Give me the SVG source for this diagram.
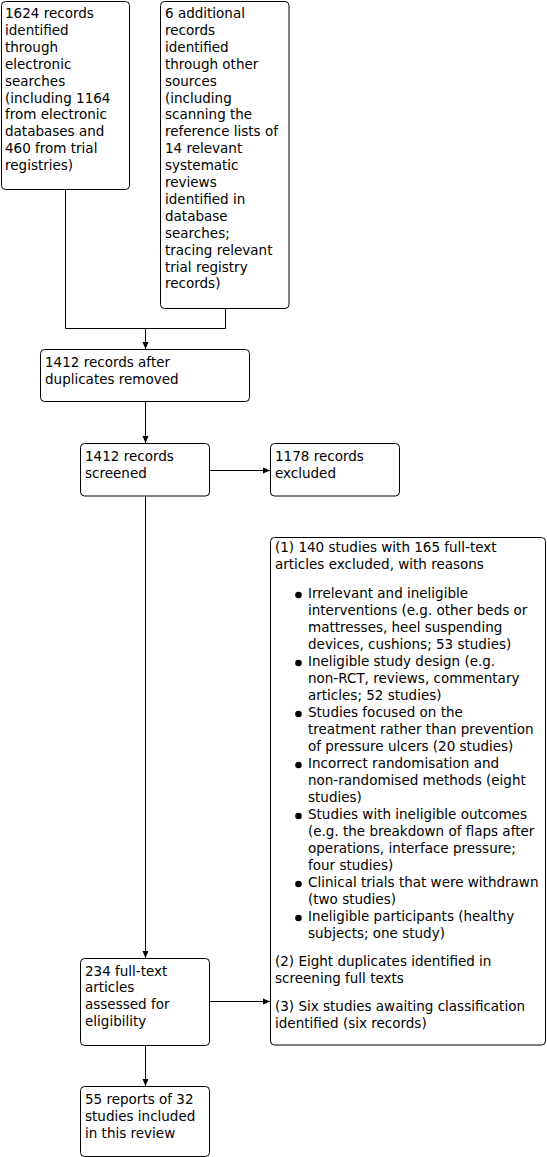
<svg xmlns="http://www.w3.org/2000/svg" width="547" height="1157" viewBox="0 0 547 1157">
<style>
.box{fill:#fff;stroke:#000;stroke-width:1}
text{font-family:"DejaVu Sans",Verdana,sans-serif;font-size:13.5px;fill:#000}
.ln{fill:none;stroke:#000;stroke-width:1}
.bul{fill:#000}
</style>
<defs>
<marker id="ah" markerUnits="userSpaceOnUse" markerWidth="8" markerHeight="8" viewBox="0 0 8 8" refX="7" refY="4" orient="auto">
<path d="M0,1 L7,4 L0,7 Z" fill="#000"/>
</marker>
</defs>
<rect width="547" height="1157" fill="#fff"/>
<g id="connectors">
<path class="ln" d="M65.5,189 V328.5 H225.5 V308.5"/>
<path class="ln" d="M145.5,328.5 V349" marker-end="url(#ah)"/>
<path class="ln" d="M145.5,401.5 V443" marker-end="url(#ah)"/>
<path class="ln" d="M209.5,470.5 H270" marker-end="url(#ah)"/>
<path class="ln" d="M145.5,496 V958" marker-end="url(#ah)"/>
<path class="ln" d="M209.5,1001.5 H270" marker-end="url(#ah)"/>
<path class="ln" d="M145.5,1045.5 V1086" marker-end="url(#ah)"/>
</g>
<g id="n1">
<rect class="box" x="1.5" y="1.5" width="128" height="188" rx="4"/>
<text x="5"><tspan x="5" y="18">1624 records</tspan><tspan x="5" y="34.9">identified</tspan><tspan x="5" y="51.8">through</tspan><tspan x="5" y="68.7">electronic</tspan><tspan x="5" y="85.6">searches</tspan><tspan x="5" y="102.5">(including 1164</tspan><tspan x="5" y="119.4">from electronic</tspan><tspan x="5" y="136.3">databases and</tspan><tspan x="5" y="153.2">460 from trial</tspan><tspan x="5" y="170.1">registries)</tspan></text>
</g>
<g id="n2">
<rect class="box" x="160.5" y="1.5" width="128.5" height="307" rx="4"/>
<text><tspan x="165" y="18">6 additional</tspan><tspan x="165" y="34.9">records</tspan><tspan x="165" y="51.8">identified</tspan><tspan x="165" y="68.7">through other</tspan><tspan x="165" y="85.6">sources</tspan><tspan x="165" y="102.5">(including</tspan><tspan x="165" y="119.4">scanning the</tspan><tspan x="165" y="136.3">reference lists of</tspan><tspan x="165" y="153.2">14 relevant</tspan><tspan x="165" y="170.1">systematic</tspan><tspan x="165" y="187">reviews</tspan><tspan x="165" y="203.9">identified in</tspan><tspan x="165" y="220.8">database</tspan><tspan x="165" y="237.7">searches;</tspan><tspan x="165" y="254.6">tracing relevant</tspan><tspan x="165" y="271.5">trial registry</tspan><tspan x="165" y="288.4">records)</tspan></text>
</g>
<g id="n3">
<rect class="box" x="40.5" y="349.5" width="209" height="52" rx="4"/>
<text><tspan x="45" y="366.7">1412 records after</tspan><tspan x="45" y="383.6">duplicates removed</tspan></text>
</g>
<g id="n4">
<rect class="box" x="80.5" y="443.5" width="129" height="52.5" rx="4"/>
<text><tspan x="85" y="460.7">1412 records</tspan><tspan x="85" y="477.6">screened</tspan></text>
</g>
<g id="n5">
<rect class="box" x="270.5" y="443.5" width="129" height="52.5" rx="4"/>
<text><tspan x="275" y="460.7">1178 records</tspan><tspan x="275" y="477.6">excluded</tspan></text>
</g>
<g id="n6">
<rect class="box" x="270.5" y="537.5" width="275" height="507.5" rx="4"/>
<text><tspan x="275" y="552">(1) 140 studies with 165 full-text</tspan><tspan x="275" y="569">articles excluded, with reasons</tspan></text>
<g class="bul">
<circle cx="298.5" cy="595" r="3.3"/>
<circle cx="298.5" cy="663" r="3.3"/>
<circle cx="298.5" cy="714" r="3.3"/>
<circle cx="298.5" cy="765" r="3.3"/>
<circle cx="298.5" cy="816" r="3.3"/>
<circle cx="298.5" cy="884" r="3.3"/>
<circle cx="298.5" cy="918" r="3.3"/>
</g>
<text><tspan x="308" y="598">Irrelevant and ineligible</tspan><tspan x="308" y="615">interventions (e.g. other beds or</tspan><tspan x="308" y="632">mattresses, heel suspending</tspan><tspan x="308" y="649">devices, cushions; 53 studies)</tspan><tspan x="308" y="666">Ineligible study design (e.g.</tspan><tspan x="308" y="683">non-RCT, reviews, commentary</tspan><tspan x="308" y="700">articles; 52 studies)</tspan><tspan x="308" y="717">Studies focused on the</tspan><tspan x="308" y="734">treatment rather than prevention</tspan><tspan x="308" y="751">of pressure ulcers (20 studies)</tspan><tspan x="308" y="768">Incorrect randomisation and</tspan><tspan x="308" y="785">non-randomised methods (eight</tspan><tspan x="308" y="802">studies)</tspan><tspan x="308" y="819">Studies with ineligible outcomes</tspan><tspan x="308" y="836">(e.g. the breakdown of flaps after</tspan><tspan x="308" y="853">operations, interface pressure;</tspan><tspan x="308" y="870">four studies)</tspan><tspan x="308" y="887">Clinical trials that were withdrawn</tspan><tspan x="308" y="904">(two studies)</tspan><tspan x="308" y="921">Ineligible participants (healthy</tspan><tspan x="308" y="938">subjects; one study)</tspan></text>
<text><tspan x="275" y="966">(2) Eight duplicates identified in</tspan><tspan x="275" y="983">screening full texts</tspan><tspan x="275" y="1011">(3) Six studies awaiting classification</tspan><tspan x="275" y="1028">identified (six records)</tspan></text>
</g>
<g id="n7">
<rect class="box" x="80.5" y="958.5" width="129" height="87" rx="4"/>
<text><tspan x="85" y="975.5">234 full-text</tspan><tspan x="85" y="992.4">articles</tspan><tspan x="85" y="1009.3">assessed for</tspan><tspan x="85" y="1026.2">eligibility</tspan></text>
</g>
<g id="n8">
<rect class="box" x="80.5" y="1086.5" width="129" height="70" rx="4"/>
<text><tspan x="85" y="1104">55 reports of 32</tspan><tspan x="85" y="1120.9">studies included</tspan><tspan x="85" y="1137.8">in this review</tspan></text>
</g>
</svg>
